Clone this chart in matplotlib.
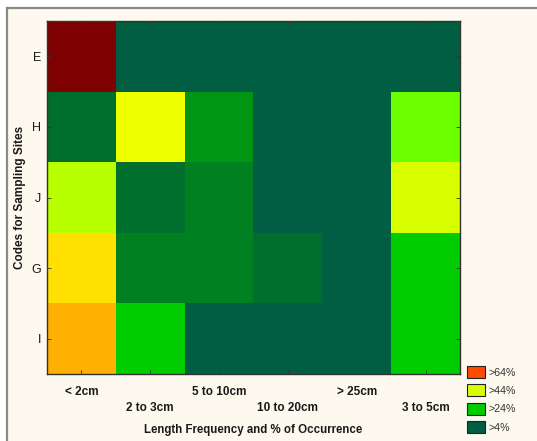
import matplotlib
matplotlib.use("Agg")
import matplotlib.pyplot as plt
import numpy as np
from matplotlib.colors import ListedColormap, BoundaryNorm
from matplotlib.patches import Patch
from matplotlib.lines import Line2D

plt.rcParams['font.family'] = ['Liberation Sans', 'DejaVu Sans']

# Size classes (x) and sampling sites (y, top to bottom)
size_classes = ["< 2cm", "2 to 3cm", "5 to 10cm", "10 to 20cm", "> 25cm", "3 to 5cm"]
sites = ["E", "H", "J", "G", "I"]

# % of occurrence per site and size class
pct_E = [88, 3, 3, 3, 3, 3]
pct_H = [11, 51, 21, 3, 3, 36]
pct_J = [41, 11, 16, 3, 3, 46]
pct_G = [56, 16, 16, 11, 3, 26]
pct_I = [61, 26, 3, 3, 3, 26]

# Contour levels and their fill colours
levels = [0, 9, 14, 19, 24, 29, 34, 39, 44, 49, 54, 59, 64, 84, 100]
level_colors = ["#025E42", "#006F2E", "#008020", "#009614", "#00CC00", "#36E600",
                "#6CFF00", "#B8FF00", "#D8FF00", "#F0FF00", "#FFE000", "#FFB000",
                "#FF4A00", "#7F0000"]

legend_labels = [">64%", ">44%", ">24%", ">4%"]
legend_colors = ["#FF4A00", "#D8FF00", "#00CC00", "#025E42"]

bg = "#FDF9EF"
fig = plt.figure(figsize=(5.37, 4.41), dpi=100, facecolor="white")

# cream panel with grey frame on the left/top
fig.patches.append(plt.Rectangle((7 / 537, 0), 1, 1 - 8 / 441, transform=fig.transFigure,
                                 facecolor=bg, edgecolor="none", zorder=-10))
fig.lines.append(Line2D([7 / 537, 7 / 537], [0, 1 - 8 / 441], transform=fig.transFigure,
                        color="#8A8A8A", lw=1.6))
fig.lines.append(Line2D([7 / 537, 1], [1 - 8 / 441, 1 - 8 / 441], transform=fig.transFigure,
                        color="#8A8A8A", lw=1.6))

ax = fig.add_axes([47 / 537, 1 - 374 / 441, 413 / 537, 353 / 441])
data = np.array([pct_E, pct_H, pct_J, pct_G, pct_I], dtype=float)
cmap = ListedColormap(level_colors)
norm = BoundaryNorm(levels, cmap.N)
ax.pcolormesh(np.arange(len(size_classes) + 1) - 0.5,
              np.arange(len(sites) + 1) - 0.5,
              data, cmap=cmap, norm=norm, shading="flat")
ax.set_xlim(-0.5, len(size_classes) - 0.5)
ax.set_ylim(len(sites) - 0.5, -0.5)

ax.set_yticks(range(len(sites)))
ax.set_yticklabels(sites, fontsize=9, color="#1A1A1A")
ax.set_xticks(range(len(size_classes)))
ax.set_xticklabels(size_classes, fontsize=8.5, fontweight="bold", color="#1A1A1A")
for i, lbl in enumerate(ax.get_xticklabels()):
    lbl.set_y(-0.010 if i % 2 == 0 else -0.055)
ax.tick_params(direction="in", length=3, width=0.6, color="#333333",
               top=True, right=True, pad=6)
ax.tick_params(axis="y", pad=4)
for s in ax.spines.values():
    s.set_linewidth(1.0)
    s.set_color("#333333")

ax.set_xlabel("Length Frequency and % of Occurrence", fontsize=8.3, fontweight="bold",
              color="#1A1A1A")
ax.xaxis.set_label_coords(0.5, -0.142)
ax.set_ylabel("Codes for Sampling Sites", fontsize=8.5, fontweight="bold",
              color="#1A1A1A")
ax.yaxis.set_label_coords(-0.052, 0.5)

handles = [Patch(facecolor=c, edgecolor="#222222", linewidth=0.8) for c in legend_colors]
fig.legend(handles, legend_labels, loc="upper left",
           bbox_to_anchor=(467 / 537, 1 - 366 / 441), frameon=False,
           fontsize=7.7, handlelength=1.7, handleheight=1.35, labelspacing=0.6,
           handletextpad=0.3, borderpad=0, borderaxespad=0, labelcolor="#333333")

fig.savefig("out.png", dpi=100, facecolor="white")
